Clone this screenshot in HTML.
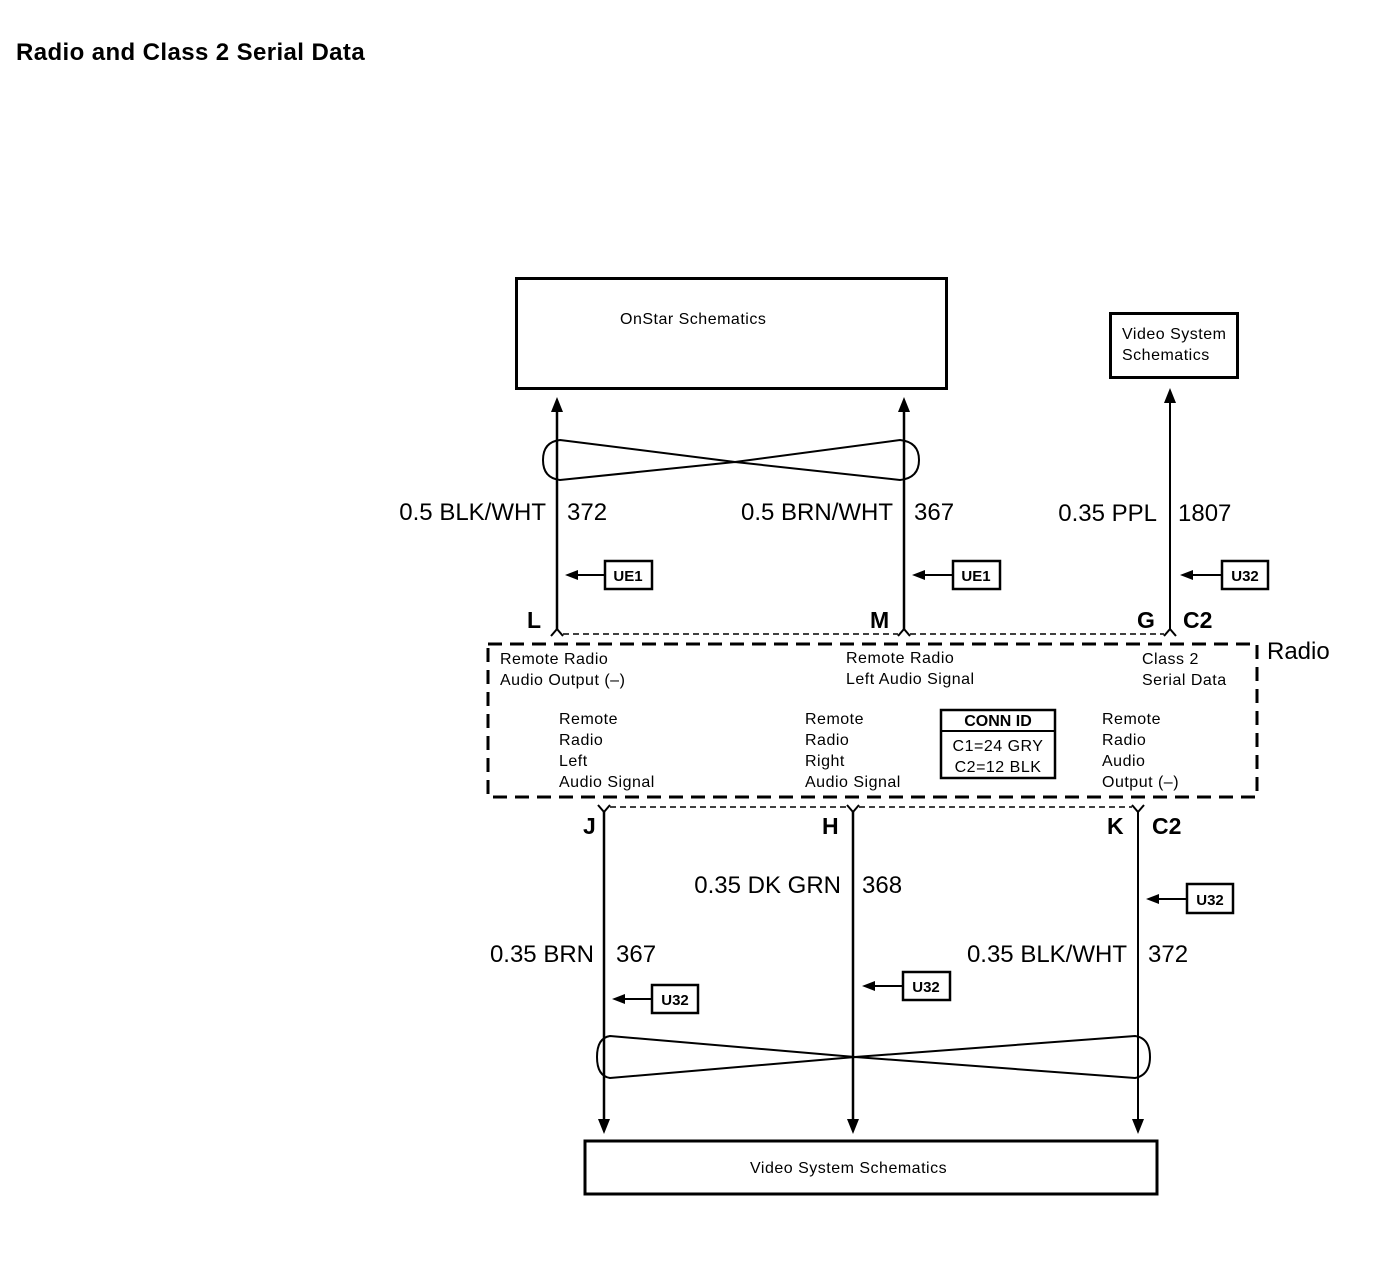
<!DOCTYPE html>
<html><head><meta charset="utf-8"><style>
body{margin:0;background:#fff}
svg{display:block}
text{font-family:"Liberation Sans",Arial,sans-serif;fill:#000}
.s{font-size:16px;letter-spacing:0.5px}
</style></head><body>
<svg width="1374" height="1264" viewBox="0 0 1374 1264" xmlns="http://www.w3.org/2000/svg">
<text x="16" y="60" font-size="24" font-weight="bold" letter-spacing="0.4">Radio and Class 2 Serial Data</text>

<rect x="516.5" y="278.5" width="430" height="110" fill="none" stroke="#000" stroke-width="3"/>
<text x="620" y="324" class="s">OnStar Schematics</text>
<rect x="1110.5" y="313.5" width="127" height="64" fill="none" stroke="#000" stroke-width="3"/>
<text x="1122" y="339" class="s">Video System</text>
<text x="1122" y="360" class="s">Schematics</text>

<g stroke="#000" fill="none">
<line x1="557" y1="405" x2="557" y2="630" stroke-width="2.5"/>
<line x1="904" y1="405" x2="904" y2="630" stroke-width="2.5"/>
<line x1="1170" y1="398" x2="1170" y2="630" stroke-width="2"/>
<path d="M551 636 L557 629 L563 636" stroke-width="2"/>
<path d="M898 636 L904 629 L910 636" stroke-width="2"/>
<path d="M1164 636 L1170 629 L1176 636" stroke-width="2"/>
<line x1="563" y1="634" x2="898" y2="634" stroke-width="1.5" stroke-dasharray="6 4"/>
<line x1="910" y1="634" x2="1164" y2="634" stroke-width="1.5" stroke-dasharray="6 4"/>
<path d="M560 440 L735 462 L900 480 Q919 478 919 460 Q919 442 900 440 L735 462 L560 480 Q543 478 543 460 Q543 442 560 440 Z" stroke-width="2"/>
<path d="M610 1036 L855 1057 L1135 1078 Q1150 1075 1150 1057 Q1150 1038 1135 1036 L855 1057 L610 1078 Q597 1076 597 1057 Q597 1038 610 1036 Z" stroke-width="2"/>
<rect x="488" y="644" width="769" height="153" stroke-width="3" stroke-dasharray="14 8"/>
<line x1="604" y1="812" x2="604" y2="1122" stroke-width="2.5"/>
<line x1="853" y1="812" x2="853" y2="1122" stroke-width="2.5"/>
<line x1="1138" y1="812" x2="1138" y2="1122" stroke-width="2"/>
<path d="M598 805 L604 812 L610 805" stroke-width="2"/>
<path d="M847 805 L853 812 L859 805" stroke-width="2"/>
<path d="M1132 805 L1138 812 L1144 805" stroke-width="2"/>
<line x1="610" y1="807" x2="847" y2="807" stroke-width="1.5" stroke-dasharray="6 4"/>
<line x1="859" y1="807" x2="1132" y2="807" stroke-width="1.5" stroke-dasharray="6 4"/>
<rect x="585" y="1141" width="572" height="53" stroke-width="3"/>
<rect x="941" y="710" width="114" height="68" stroke-width="2.5"/>
<line x1="941" y1="731" x2="1055" y2="731" stroke-width="2"/>
<rect x="605" y="561" width="47" height="28" stroke-width="2.5"/>
<rect x="953" y="561" width="47" height="28" stroke-width="2.5"/>
<rect x="1222" y="561" width="46" height="28" stroke-width="2.5"/>
<rect x="1187" y="884" width="46" height="29" stroke-width="2.5"/>
<rect x="652" y="985" width="46" height="28" stroke-width="2.5"/>
<rect x="903" y="972" width="47" height="28" stroke-width="2.5"/>
<line x1="575" y1="575" x2="605" y2="575" stroke-width="2"/>
<line x1="922" y1="575" x2="953" y2="575" stroke-width="2"/>
<line x1="1190" y1="575" x2="1222" y2="575" stroke-width="2"/>
<line x1="1156" y1="899" x2="1187" y2="899" stroke-width="2"/>
<line x1="622" y1="999" x2="652" y2="999" stroke-width="2"/>
<line x1="872" y1="986" x2="903" y2="986" stroke-width="2"/>
</g>
<g fill="#000">
<path d="M557 397 L551 412 L563 412 Z"/>
<path d="M904 397 L898 412 L910 412 Z"/>
<path d="M1170 388 L1164 403 L1176 403 Z"/>
<path d="M604 1134 L598 1119 L610 1119 Z"/>
<path d="M853 1134 L847 1119 L859 1119 Z"/>
<path d="M1138 1134 L1132 1119 L1144 1119 Z"/>
<path d="M565 575 L578 570 L578 580 Z"/>
<path d="M912 575 L925 570 L925 580 Z"/>
<path d="M1180 575 L1193 570 L1193 580 Z"/>
<path d="M1146 899 L1159 894 L1159 904 Z"/>
<path d="M612 999 L625 994 L625 1004 Z"/>
<path d="M862 986 L875 981 L875 991 Z"/>
</g>
<g font-size="15" font-weight="bold">
<text x="628" y="581" text-anchor="middle">UE1</text>
<text x="976" y="581" text-anchor="middle">UE1</text>
<text x="1245" y="581" text-anchor="middle">U32</text>
<text x="1210" y="905" text-anchor="middle">U32</text>
<text x="675" y="1005" text-anchor="middle">U32</text>
<text x="926" y="992" text-anchor="middle">U32</text>
<text x="998" y="726" text-anchor="middle" font-size="16">CONN ID</text>
</g>
<text x="998" y="751" text-anchor="middle" class="s">C1=24 GRY</text>
<text x="998" y="772" text-anchor="middle" class="s">C2=12 BLK</text>

<g font-size="24">
<text x="546" y="520" text-anchor="end">0.5 BLK/WHT</text><text x="567" y="520">372</text>
<text x="893" y="520" text-anchor="end">0.5 BRN/WHT</text><text x="914" y="520">367</text>
<text x="1157" y="521" text-anchor="end">0.35 PPL</text><text x="1178" y="521">1807</text>
<text x="841" y="893" text-anchor="end">0.35 DK GRN</text><text x="862" y="893">368</text>
<text x="594" y="962" text-anchor="end">0.35 BRN</text><text x="616" y="962">367</text>
<text x="1127" y="962" text-anchor="end">0.35 BLK/WHT</text><text x="1148" y="962">372</text>
<text x="1267" y="659">Radio</text>
</g>
<g font-size="23" font-weight="bold">
<text x="527" y="628">L</text><text x="870" y="628">M</text>
<text x="1137" y="628">G</text><text x="1183" y="628">C2</text>
<text x="583" y="834">J</text><text x="822" y="834">H</text>
<text x="1107" y="834">K</text><text x="1152" y="834">C2</text>
</g>
<g class="s">
<text x="500" y="664">Remote Radio</text><text x="500" y="685">Audio Output (–)</text>
<text x="846" y="663">Remote Radio</text><text x="846" y="684">Left Audio Signal</text>
<text x="1142" y="664">Class 2</text><text x="1142" y="685">Serial Data</text>
<text x="559" y="724">Remote</text><text x="559" y="745">Radio</text><text x="559" y="766">Left</text><text x="559" y="787">Audio Signal</text>
<text x="805" y="724">Remote</text><text x="805" y="745">Radio</text><text x="805" y="766">Right</text><text x="805" y="787">Audio Signal</text>
<text x="1102" y="724">Remote</text><text x="1102" y="745">Radio</text><text x="1102" y="766">Audio</text><text x="1102" y="787">Output (–)</text>
<text x="750" y="1173">Video System Schematics</text>
</g>
</svg>
</body></html>
